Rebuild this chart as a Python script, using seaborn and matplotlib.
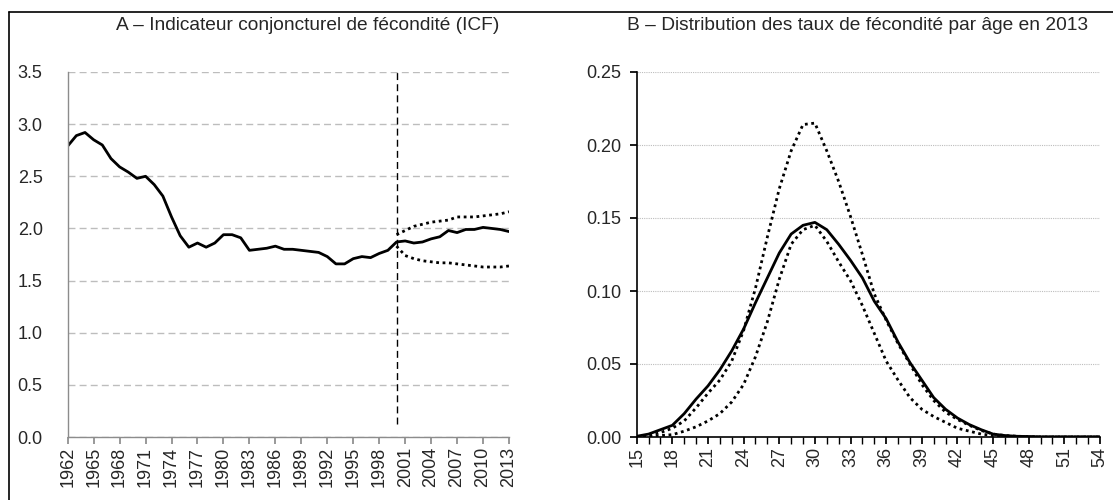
import numpy as np
import pandas as pd
import matplotlib
matplotlib.use("Agg")
import matplotlib.pyplot as plt
from matplotlib.lines import Line2D
from matplotlib.ticker import MultipleLocator, FormatStrFormatter
import seaborn as sns

# --- data ---
years = list(range(1962, 2014))
icf = [2.79, 2.89, 2.92, 2.85, 2.80, 2.67, 2.59, 2.54, 2.48, 2.50,
       2.42, 2.31, 2.11, 1.93, 1.82, 1.86, 1.82, 1.86, 1.94, 1.94,
       1.91, 1.79, 1.80, 1.81, 1.83, 1.80, 1.80, 1.79, 1.78, 1.77,
       1.73, 1.66, 1.66, 1.71, 1.73, 1.72, 1.76, 1.79, 1.87, 1.88,
       1.86, 1.87, 1.90, 1.92, 1.98, 1.96, 1.99, 1.99, 2.01, 2.00,
       1.99, 1.97]
proj_years = list(range(2000, 2014))
icf_high = [1.94, 1.98, 2.02, 2.04, 2.06, 2.07, 2.08, 2.11, 2.11, 2.11,
            2.12, 2.13, 2.14, 2.16]
icf_low = [1.83, 1.74, 1.71, 1.69, 1.68, 1.67, 1.67, 1.66, 1.65, 1.64,
           1.63, 1.63, 1.63, 1.64]
break_year = 2000

ages = list(range(15, 55))
rate_obs = [0.0005, 0.002, 0.005, 0.008, 0.016, 0.026, 0.035, 0.046, 0.059, 0.074,
            0.092, 0.109, 0.126, 0.139, 0.145, 0.147, 0.142, 0.132, 0.121, 0.109,
            0.093, 0.081, 0.065, 0.051, 0.039, 0.027, 0.019, 0.013, 0.0085, 0.005,
            0.002, 0.001, 0.0005, 0.0003, 0.0001, 0.0001, 0.0001, 0.0001, 0.0001, 0.0001]
rate_high = [0.0, 0.001, 0.003, 0.006, 0.011, 0.020, 0.030, 0.039, 0.052, 0.073,
             0.102, 0.137, 0.170, 0.196, 0.214, 0.215, 0.196, 0.175, 0.151, 0.125,
             0.098, 0.080, 0.064, 0.050, 0.036, 0.025, 0.017, 0.012, 0.008, 0.0045,
             0.002, 0.001, 0.0005, 0.0003, 0.0001, 0.0001, 0.0001, 0.0001, 0.0001, 0.0001]
rate_low = [0.0, 0.0, 0.001, 0.0016, 0.004, 0.007, 0.011, 0.016, 0.024, 0.036,
            0.055, 0.079, 0.108, 0.132, 0.142, 0.145, 0.134, 0.120, 0.107, 0.090,
            0.071, 0.052, 0.039, 0.027, 0.019, 0.014, 0.010, 0.006, 0.004, 0.002,
            0.001, 0.0005, 0.0002, 0.0001, 0.0, 0.0, 0.0, 0.0, 0.0, 0.0]

title_a = "A \u2013 Indicateur conjoncturel de fécondité (ICF)"
title_b = "B \u2013 Distribution des taux de fécondité par âge en 2013"

sns.set_theme(style="white")
plt.rcParams["font.family"] = ["Liberation Sans", "DejaVu Sans"]
plt.rcParams["xtick.labelsize"] = 13
plt.rcParams["ytick.labelsize"] = 13

W, H = 1113, 500
fig = plt.figure(figsize=(W / 100, H / 100), dpi=100)
ax1 = fig.add_axes([67.7 / W, 63 / H, 441.3 / W, 365 / H])
ax2 = fig.add_axes([636.7 / W, 63 / H, 463.3 / W, 365 / H])

dots = (0, (1, 1.3))

# panel A
df_a = pd.DataFrame({"year": years, "icf": icf})
df_p = pd.DataFrame({"year": proj_years, "high": icf_high, "low": icf_low})
sns.lineplot(data=df_a, x="year", y="icf", ax=ax1, color="black", lw=2)
sns.lineplot(data=df_p, x="year", y="high", ax=ax1, color="black", lw=2, linestyle=dots)
sns.lineplot(data=df_p, x="year", y="low", ax=ax1, color="black", lw=2, linestyle=dots)
ax1.vlines(break_year, 0.12, 3.5, color="black", lw=1, linestyles=(0, (5, 3)), zorder=3)

ax1.set_xlim(1962, 2013)
ax1.set_ylim(0, 3.5)
ax1.xaxis.set_major_locator(MultipleLocator(3))
ax1.yaxis.set_major_locator(MultipleLocator(0.5))
ax1.yaxis.set_major_formatter(FormatStrFormatter("%.1f"))
ax1.grid(axis="y", color="#bdbdbd", lw=1, linestyle=(0, (5, 3)))
for s in ["top", "right"]:
    ax1.spines[s].set_visible(False)
for s in ["left", "bottom"]:
    ax1.spines[s].set_color("#8c8c8c")
    ax1.spines[s].set_linewidth(1)
ax1.tick_params(axis="x", bottom=True, length=5, color="#8c8c8c", rotation=90, pad=2)
ax1.tick_params(axis="y", left=False, pad=12)
ax1.set_xlabel("")
ax1.set_ylabel("")

# panel B
df_b = pd.DataFrame({"age": ages, "obs": rate_obs, "high": rate_high, "low": rate_low})
sns.lineplot(data=df_b, x="age", y="high", ax=ax2, color="black", lw=2, linestyle=dots)
sns.lineplot(data=df_b, x="age", y="low", ax=ax2, color="black", lw=2, linestyle=dots)
sns.lineplot(data=df_b, x="age", y="obs", ax=ax2, color="black", lw=2)

ax2.set_xlim(15, 54)
ax2.set_ylim(0, 0.25)
ax2.xaxis.set_major_locator(MultipleLocator(3))
ax2.xaxis.set_minor_locator(MultipleLocator(1))
ax2.yaxis.set_major_locator(MultipleLocator(0.05))
ax2.yaxis.set_major_formatter(FormatStrFormatter("%.2f"))
ax2.grid(axis="y", color="#bdbdbd", lw=0.8, linestyle=(0, (1, 1)))
for s in ["top", "right"]:
    ax2.spines[s].set_visible(False)
for s in ["left", "bottom"]:
    ax2.spines[s].set_color("black")
    ax2.spines[s].set_linewidth(1.2)
ax2.tick_params(axis="x", which="both", bottom=True, length=5, color="black", rotation=90, pad=2)
ax2.tick_params(axis="y", left=True, length=5, color="black", pad=6)
ax2.set_xlabel("")
ax2.set_ylabel("")

fig.text(308 / W, 1 - 25 / H, title_a, ha="center", va="center", fontsize=13.8)
fig.text(858 / W, 1 - 25 / H, title_b, ha="center", va="center", fontsize=13.8)

# outer frame (top and left edges visible)
fig.add_artist(Line2D([9 / W, 1.0], [1 - 12 / H, 1 - 12 / H], transform=fig.transFigure, color="black", lw=1.2))
fig.add_artist(Line2D([9 / W, 9 / W], [0, 1 - 12 / H], transform=fig.transFigure, color="black", lw=1.2))

fig.savefig("out.png", dpi=100)
